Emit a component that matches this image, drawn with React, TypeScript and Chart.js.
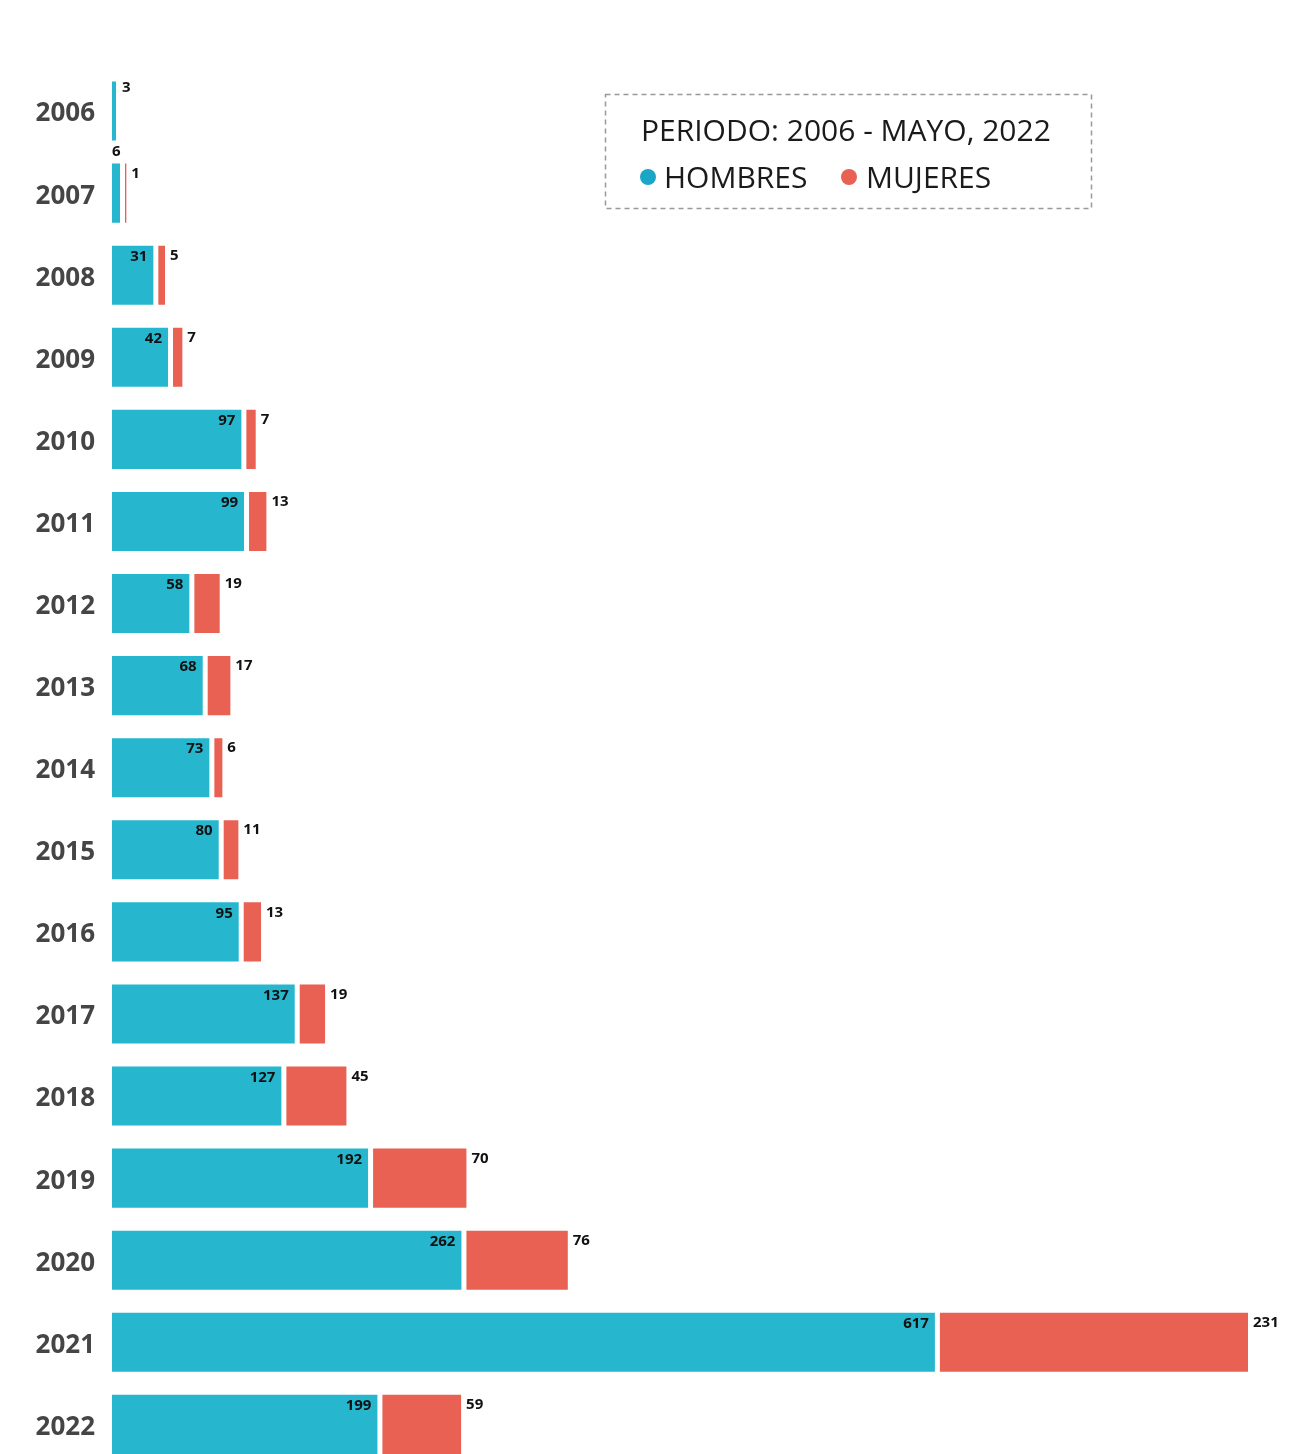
import React, { useEffect, useRef } from "react";
import { Chart, registerables } from "chart.js";

Chart.register(...registerables);

const years = ["2006","2007","2008","2009","2010","2011","2012","2013","2014","2015","2016","2017","2018","2019","2020","2021","2022"];
const hombres = [3, 6, 31, 42, 97, 99, 58, 68, 73, 80, 95, 137, 127, 192, 262, 617, 199];
const mujeres = [0, 1, 5, 7, 7, 13, 19, 17, 6, 11, 13, 19, 45, 70, 76, 231, 59];

const legendTitle = "PERIODO: 2006 - MAYO, 2022";
const legendLabels = ["HOMBRES", "MUJERES"];

const CYAN = "#26B6CE";
const RED = "#E86153";
const X_MAX = 893;
const GAP_UNITS = 3.75; // visual gap between segments

const spacer = mujeres.map((m) => (m > 0 ? GAP_UNITS : 0));

const valueLabels = {
  id: "valueLabels",
  afterDatasetsDraw(chart: any) {
    const ctx = chart.ctx;
    const hMeta = chart.getDatasetMeta(0);
    const mMeta = chart.getDatasetMeta(2);
    ctx.save();
    ctx.font = 'bold 15px "Open Sans"';
    ctx.fillStyle = "#111";
    ctx.textBaseline = "middle";
    hombres.forEach((h, i) => {
      const hb: any = hMeta.data[i];
      const top = hb.y - hb.height / 2;
      const w = hb.x - hb.base;
      if (w > 30) {
        ctx.textAlign = "right";
        ctx.fillText(String(h), hb.x - 6, top + 11);
      } else if (mujeres[i] === 0) {
        ctx.textAlign = "left";
        ctx.fillText(String(h), hb.x + 6, top + 6);
      } else {
        ctx.textAlign = "left";
        ctx.fillText(String(h), hb.base, top - 12);
      }
      if (mujeres[i] > 0) {
        const mb: any = mMeta.data[i];
        ctx.textAlign = "left";
        ctx.fillText(String(mujeres[i]), mb.x + 5, top + 10);
      }
    });
    ctx.restore();
  },
};

const legendBox = {
  id: "legendBox",
  afterDraw(chart: any) {
    const ctx = chart.ctx;
    ctx.save();
    ctx.setLineDash([5, 4]);
    ctx.strokeStyle = "#999";
    ctx.lineWidth = 1.5;
    ctx.strokeRect(605.5, 94.5, 486, 114);
    ctx.setLineDash([]);
    ctx.fillStyle = "#1a1a1a";
    ctx.textAlign = "left";
    ctx.textBaseline = "alphabetic";
    ctx.font = '30px "Open Sans"';
    ctx.fillText(legendTitle, 641, 141);
    ctx.fillStyle = "#1BA6C7";
    ctx.beginPath();
    ctx.arc(648, 177, 8, 0, Math.PI * 2);
    ctx.fill();
    ctx.fillStyle = RED;
    ctx.beginPath();
    ctx.arc(849, 177, 8, 0, Math.PI * 2);
    ctx.fill();
    ctx.fillStyle = "#1a1a1a";
    ctx.fillText(legendLabels[0], 664, 188);
    ctx.fillText(legendLabels[1], 866, 188);
    ctx.restore();
  },
};

export default function App() {
  const ref = useRef<HTMLCanvasElement>(null);
  useEffect(() => {
    if (!ref.current) return;
    const chart = new Chart(ref.current, {
      type: "bar",
      data: {
        labels: years,
        datasets: [
          { label: legendLabels[0], data: hombres, backgroundColor: CYAN },
          { label: "gap", data: spacer, backgroundColor: "rgba(0,0,0,0)" },
          { label: legendLabels[1], data: mujeres, backgroundColor: RED },
        ],
      },
      options: {
        indexAxis: "y",
        responsive: false,
        animation: false,
        layout: { padding: { top: 70, right: 0, bottom: 0, left: 0 } },
        plugins: { legend: { display: false }, tooltip: { enabled: false } },
        datasets: { bar: { categoryPercentage: 1, barPercentage: 0.72, borderWidth: 0 } },
        scales: {
          x: { stacked: true, display: false, min: 0, max: X_MAX },
          y: {
            stacked: true,
            grid: { display: false, drawTicks: false },
            border: { display: false },
            afterFit(scale: any) {
              scale.width = 112;
            },
            ticks: {
              padding: 17,
              labelOffset: 3,
              color: "#454545",
              font: { family: "Open Sans", weight: "bold", size: 26 },
            },
          },
        },
      },
      plugins: [valueLabels, legendBox],
    });
    return () => chart.destroy();
  }, []);
  return (
    <div style={{ position: "fixed", left: 0, top: 0, width: 1303, height: 1454, overflow: "hidden", background: "#fff" }}>
      <canvas ref={ref} width={1303} height={1498} style={{ width: 1303, height: 1498, display: "block" }} />
    </div>
  );
}
